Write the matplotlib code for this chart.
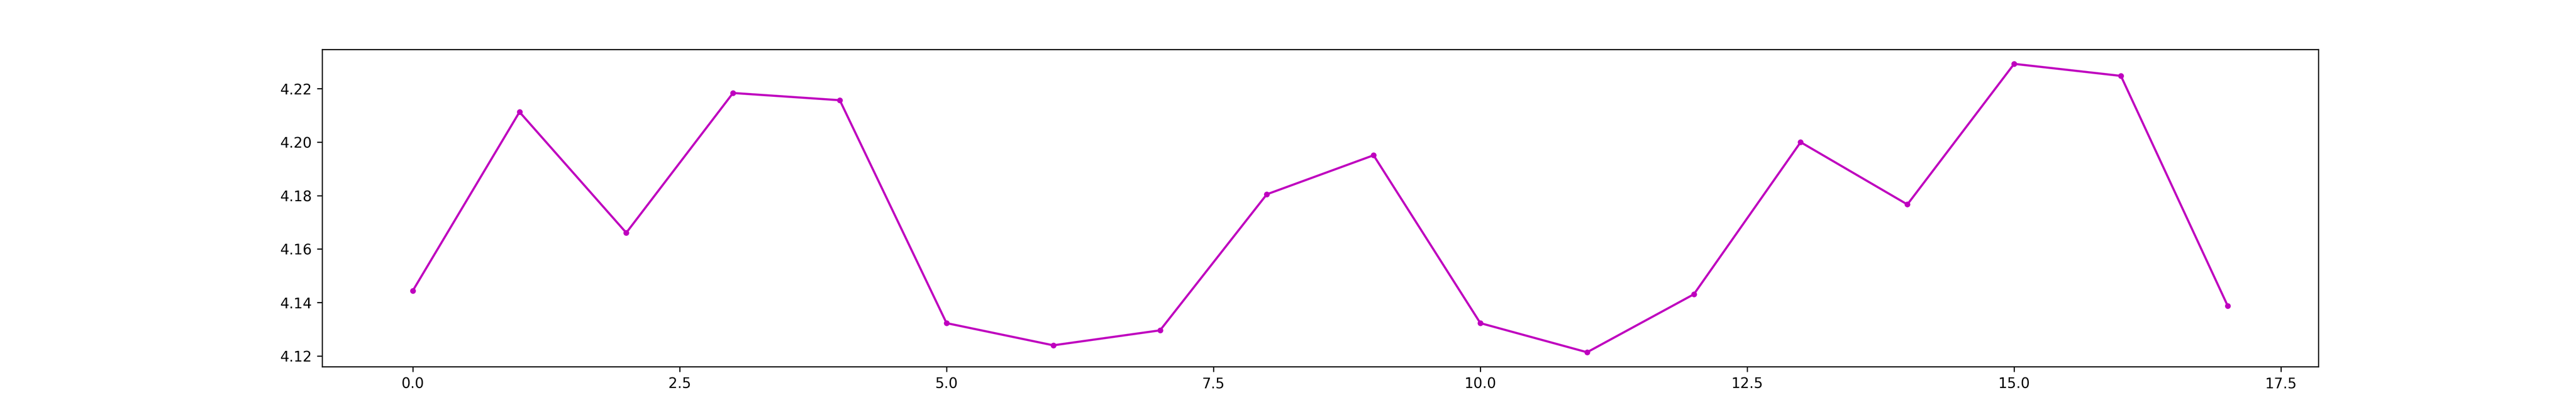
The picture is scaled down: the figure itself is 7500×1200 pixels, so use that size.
import matplotlib
matplotlib.use("Agg")
import matplotlib.pyplot as plt

# index of each sample and its measured value
steps = list(range(18))
values = [4.1444, 4.2113, 4.1661, 4.2184, 4.2157, 4.1323, 4.1240, 4.1296, 4.1805,
          4.1951, 4.1323, 4.1214, 4.1431, 4.2000, 4.1767, 4.2293, 4.2248, 4.1388]

plt.figure(figsize=(25, 4))
plt.plot(steps, values, color='m', marker='.')
plt.savefig("out.png", dpi=300)
